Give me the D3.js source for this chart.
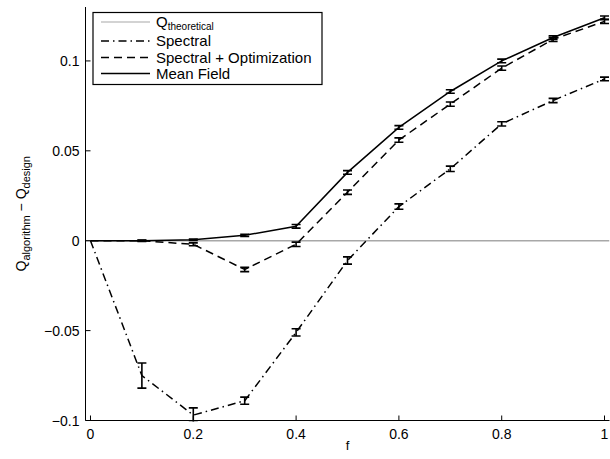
<!DOCTYPE html>
<html><head><meta charset="utf-8">
<script src="https://cdn.jsdelivr.net/npm/d3@7"></script>
<style>body{margin:0;background:#fff}svg{display:block}text{font-family:"Liberation Sans",Arial,sans-serif}</style>
</head><body><svg id="c" width="610" height="459"></svg>
<script>
const fVals = [0, 0.1, 0.2, 0.3, 0.4, 0.5, 0.6, 0.7, 0.8, 0.9, 1.0];
const spectral = [0, -0.075, -0.097, -0.089, -0.051, -0.011, 0.019, 0.040, 0.065, 0.078, 0.090];
const spectralErr = [0, 0.007, 0.004, 0.002, 0.002, 0.002, 0.0015, 0.0015, 0.0012, 0.0012, 0.001];
const specOpt = [0, 0, -0.002, -0.016, -0.002, 0.027, 0.056, 0.076, 0.096, 0.112, 0.122];
const specOptErr = [0, 0.0004, 0.0008, 0.0012, 0.0012, 0.0012, 0.0012, 0.0012, 0.0012, 0.0012, 0.0012];
const meanField = [0, 0, 0.0005, 0.003, 0.008, 0.038, 0.063, 0.083, 0.100, 0.113, 0.124];
const meanFieldErr = [0, 0.0003, 0.0004, 0.0006, 0.001, 0.001, 0.001, 0.001, 0.001, 0.001, 0.001];
const xTicks = [0, 0.2, 0.4, 0.6, 0.8, 1];
const yTicks = [-0.1, -0.05, 0, 0.05, 0.1];
const legendLabels = ["Q", "Spectral", "Spectral + Optimization", "Mean Field"];

const svg = d3.select("#c");
const L = 85.5, R = 609.5, T = 7, B = 420.5;
const x = d3.scaleLinear().domain([-0.0097, 1.0097]).range([L, R]);
const y = d3.scaleLinear().domain([-0.1, 0.13]).range([B, T]);

svg.append("defs").append("clipPath").attr("id","pc").append("rect")
  .attr("x", L).attr("y", T).attr("width", R - L).attr("height", B - T + 1);

const g = svg.append("g").attr("clip-path","url(#pc)");
g.append("line").attr("x1", L).attr("x2", R).attr("y1", y(0)).attr("y2", y(0))
  .attr("stroke", "#a8a8a8").attr("stroke-width", 1.5);

const series = [
  {v: spectral, e: spectralErr, dash: "8,4,1.5,4"},
  {v: specOpt, e: specOptErr, dash: "8,5"},
  {v: meanField, e: meanFieldErr, dash: null}
];
const line = d3.line().x((d,i)=>x(fVals[i])).y(d=>y(d));
series.forEach(s => {
  const p = g.append("path").datum(s.v).attr("d", line).attr("fill","none")
    .attr("stroke","#000").attr("stroke-width",1.5);
  if (s.dash) p.attr("stroke-dasharray", s.dash);
  fVals.forEach((f,i) => {
    if (i === 0) return;
    const cx = x(f), y1 = y(s.v[i] - s.e[i]), y2 = y(s.v[i] + s.e[i]);
    const eg = g.append("g").attr("stroke","#000").attr("stroke-width",1.6);
    eg.append("line").attr("x1",cx).attr("x2",cx).attr("y1",y1).attr("y2",y2);
    eg.append("line").attr("x1",cx-4.5).attr("x2",cx+4.5).attr("y1",y1).attr("y2",y1);
    eg.append("line").attr("x1",cx-4.5).attr("x2",cx+4.5).attr("y1",y2).attr("y2",y2);
  });
});

const ax = svg.append("g").attr("stroke","#000").attr("stroke-width",1);
ax.append("line").attr("x1",L).attr("x2",L).attr("y1",T).attr("y2",B);
ax.append("line").attr("x1",L).attr("x2",R).attr("y1",B).attr("y2",B);
xTicks.forEach(t => {
  ax.append("line").attr("x1",x(t)).attr("x2",x(t)).attr("y1",B).attr("y2",B-5);
  svg.append("text").attr("x",x(t)).attr("y",B+18).attr("text-anchor","middle")
    .attr("font-size",14).text(d3.format("")(t));
});
yTicks.forEach(t => {
  ax.append("line").attr("x1",L).attr("x2",L+5).attr("y1",y(t)).attr("y2",y(t));
  svg.append("text").attr("x",L-6).attr("y",y(t)+5).attr("text-anchor","end")
    .attr("font-size",14).text(t === 0 ? "0" : d3.format("")(t).replace("-","\u2212"));
});
svg.append("text").attr("x",(x(0)+x(1))/2).attr("y",450).attr("text-anchor","middle")
  .attr("font-size",13).text("f");
const yl = svg.append("text").attr("transform","translate(26,"+((T+B)/2)+") rotate(-90)")
  .attr("text-anchor","middle").attr("font-size",14);
yl.append("tspan").text("Q");
yl.append("tspan").attr("font-size",11).attr("dy",4).text("algorithm");
yl.append("tspan").attr("dy",-4).text(" \u2212 Q");
yl.append("tspan").attr("font-size",11).attr("dy",4).text("design");

const lg = svg.append("g");
lg.append("rect").attr("x",93).attr("y",12.5).attr("width",229).attr("height",72)
  .attr("fill","#fff").attr("stroke","#000").attr("stroke-width",1.2);
const ly = [22, 41, 57.5, 73.5];
const styles = [{c:"#a8a8a8",d:null},{c:"#000",d:"8,4,1.5,4"},{c:"#000",d:"8,5"},{c:"#000",d:null}];
legendLabels.forEach((lab,i) => {
  const l = lg.append("line").attr("x1",101).attr("x2",150).attr("y1",ly[i]).attr("y2",ly[i])
    .attr("stroke",styles[i].c).attr("stroke-width",i===0?1.2:1.5);
  if (styles[i].d) l.attr("stroke-dasharray",styles[i].d);
  const t = lg.append("text").attr("x",156).attr("y",ly[i]+5).attr("font-size",15).text(lab);
  if (i === 0) t.append("tspan").attr("font-size",10).attr("dy",3).text("theoretical");
});
</script></body></html>
